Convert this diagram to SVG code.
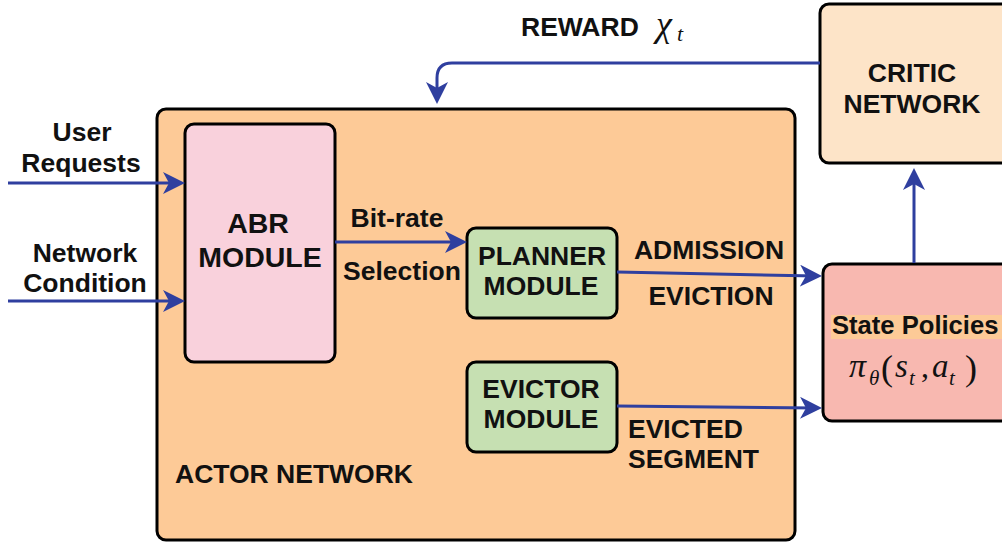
<svg xmlns="http://www.w3.org/2000/svg" width="1002" height="543" viewBox="0 0 1002 543">
  <style>
    .box { stroke: #000; stroke-width: 3; }
    .lbl { font-family: "Liberation Sans", Arial, sans-serif; font-weight: bold; font-size: 26.5px; fill: #111; }
    .mid { text-anchor: middle; }
    .math { font-family: "Liberation Serif", "Times New Roman", serif; font-style: italic; fill: #111; }
    .up { font-style: normal; }
    .wire { fill: none; stroke: #2f3f9f; stroke-width: 3; marker-end: url(#head); }
  </style>
  <defs>
    <marker id="head" viewBox="0 0 22 22" markerUnits="userSpaceOnUse" markerWidth="22" markerHeight="22" refX="16" refY="11" orient="auto">
      <path d="M0,0 L22,11 L0,22 L6,11 Z" fill="#2f3f9f"/>
    </marker>
  </defs>

  <rect width="1002" height="543" fill="#fff"/>

  <!-- outer actor network container -->
  <g id="actor-network">
    <rect class="box" x="157" y="109" width="638" height="431" rx="9" fill="#fdca97"/>
    <text class="lbl" x="175" y="483">ACTOR NETWORK</text>
  </g>

  <g id="abr-module">
    <rect class="box" x="185" y="124" width="150" height="238" rx="9" fill="#f9d1dc"/>
    <text class="lbl mid" x="258" y="233" style="font-size:28.5px">ABR</text>
    <text class="lbl mid" x="260" y="267" style="font-size:28.5px">MODULE</text>
  </g>

  <g id="planner-module">
    <rect class="box" x="467" y="228" width="150" height="90" rx="9" fill="#c6e0b2"/>
    <text class="lbl mid" x="542" y="265">PLANNER</text>
    <text class="lbl mid" x="541" y="295">MODULE</text>
  </g>

  <g id="evictor-module">
    <rect class="box" x="467" y="362" width="150" height="90" rx="9" fill="#c6e0b2"/>
    <text class="lbl mid" x="541" y="398">EVICTOR</text>
    <text class="lbl mid" x="541" y="428">MODULE</text>
  </g>

  <g id="critic-network">
    <rect class="box" x="820" y="4" width="200" height="159" rx="9" fill="#fde4c8"/>
    <text class="lbl mid" x="912" y="82">CRITIC</text>
    <text class="lbl mid" x="912" y="113">NETWORK</text>
  </g>

  <g id="state-policies">
    <rect class="box" x="823" y="264" width="200" height="157" rx="9" fill="#f8b8b0"/>
    <rect x="831" y="315" width="175" height="24" fill="#fdca97"/>
    <text class="lbl" x="832" y="334" style="font-size:25.6px">State Policies</text>
    <text class="math" x="849" y="377" font-size="34">π</text>
    <text class="math" x="869" y="385" font-size="21">θ</text>
    <text class="math up" x="881" y="380" font-size="36">(</text>
    <text class="math" x="895" y="377" font-size="33">s</text>
    <text class="math" x="909" y="385" font-size="21">t</text>
    <text class="math up" x="921" y="377" font-size="32">,</text>
    <text class="math" x="932" y="377" font-size="33">a</text>
    <text class="math" x="949" y="385" font-size="21">t</text>
    <text class="math up" x="965" y="380" font-size="36">)</text>
  </g>

  <!-- connectors and their labels -->
  <g id="connectors">
    <path class="wire" d="M8,183 H179"/>
    <path class="wire" d="M8,301 H179"/>
    <path class="wire" d="M335,242 H461"/>
    <path class="wire" d="M617,272 L816,276"/>
    <path class="wire" d="M617,406 L816,408"/>
    <path class="wire" d="M914,263 V174"/>
    <path class="wire" d="M820,63 H452 Q437,63 437,78 V98"/>

    <text class="lbl mid" x="82" y="141">User</text>
    <text class="lbl mid" x="81" y="172">Requests</text>
    <text class="lbl mid" x="85" y="262">Network</text>
    <text class="lbl mid" x="85" y="292">Condition</text>
    <text class="lbl mid" x="397" y="227">Bit-rate</text>
    <text class="lbl mid" x="402" y="280">Selection</text>
    <text class="lbl mid" x="709" y="259">ADMISSION</text>
    <text class="lbl mid" x="711" y="305">EVICTION</text>
    <text class="lbl" x="628" y="438">EVICTED</text>
    <text class="lbl" x="628" y="468">SEGMENT</text>
    <text class="lbl" x="521" y="36">REWARD</text>
    <text class="math" x="656" y="36" font-size="36">χ</text>
    <text class="math" x="677" y="41" font-size="22">t</text>
  </g>
</svg>
